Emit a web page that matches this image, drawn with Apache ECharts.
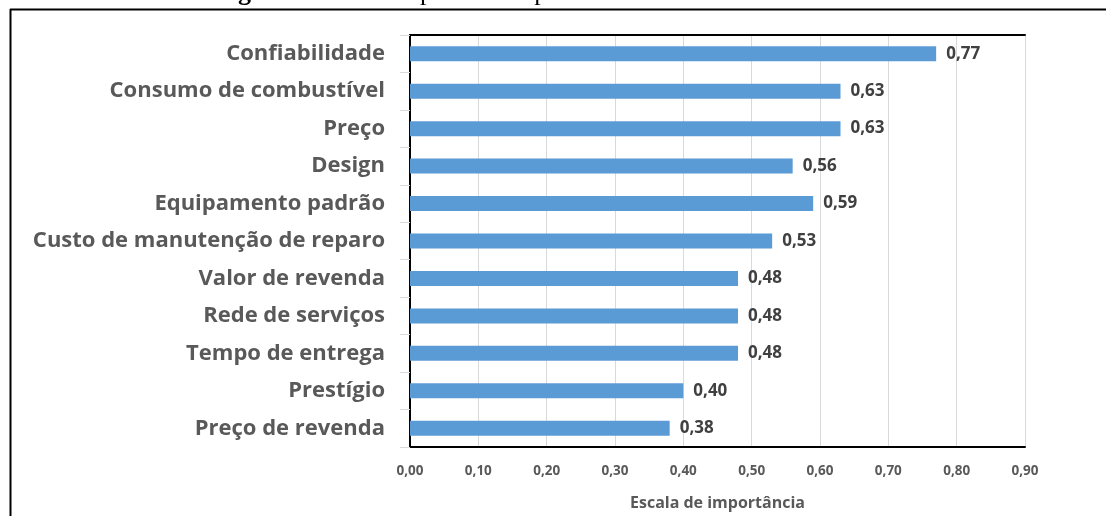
<!DOCTYPE html>
<html>
<head>
<meta charset="utf-8">
<script src="https://cdn.jsdelivr.net/npm/echarts@6/dist/echarts.min.js"></script>
<style>
  html, body { margin: 0; padding: 0; background: #fff; }
  #chart { width: 1106px; height: 516px; }
</style>
</head>
<body>
<div id="chart"></div>
<script>
// Critérios para a compra de veículos — escala de importância
const categories = [
  'Confiabilidade',
  'Consumo de combustível',
  'Preço',
  'Design',
  'Equipamento padrão',
  'Custo de manutenção de reparo',
  'Valor de revenda',
  'Rede de serviços',
  'Tempo de entrega',
  'Prestígio',
  'Preço de revenda'
];
const importance = [0.77, 0.63, 0.63, 0.56, 0.59, 0.53, 0.48, 0.48, 0.48, 0.40, 0.38];
const titleBold = 'Figura 1.';
const titleRest = ' Critérios para a compra de veículos';
const axisTitle = 'Escala de importância';

const fmt = v => Number(v).toFixed(2).replace('.', ',');
const sans = '"Open Sans", "Liberation Sans", sans-serif';

const chart = echarts.init(document.getElementById('chart'), null, { renderer: 'canvas' });

chart.setOption({
  backgroundColor: '#ffffff',
  animation: false,
  graphic: [
    {
      type: 'text',
      left: 215,
      top: -20,
      style: {
        text: '{b|' + titleBold + '}' + titleRest,
        font: '26px "Liberation Serif", serif',
        fill: '#000',
        rich: {
          b: { font: 'bold 26px "Liberation Serif", serif', fill: '#000' }
        }
      }
    },
    {
      type: 'line',
      shape: { x1: 10, y1: 9.5, x2: 1106, y2: 9.5 },
      style: { stroke: '#000', lineWidth: 2 }
    },
    {
      type: 'line',
      shape: { x1: 10.5, y1: 9, x2: 10.5, y2: 516 },
      style: { stroke: '#000', lineWidth: 2 }
    }
  ],
  grid: { left: 410, right: 81, top: 35, bottom: 66, containLabel: false },
  xAxis: [
    {
      type: 'value',
      min: 0,
      max: 0.9,
      interval: 0.1,
      position: 'bottom',
      axisLine: { show: true, lineStyle: { color: '#000', width: 2 } },
      axisTick: { show: false },
      axisLabel: {
        formatter: fmt,
        color: '#595959',
        fontFamily: sans,
        fontWeight: 'bold',
        fontSize: 13.5,
        margin: 17
      },
      splitLine: { show: true, lineStyle: { color: '#d9d9d9', width: 1 } },
      name: axisTitle,
      nameLocation: 'middle',
      nameGap: 48,
      nameTextStyle: { color: '#595959', fontFamily: sans, fontWeight: 'bold', fontSize: 16 }
    },
    {
      type: 'value',
      min: 0,
      max: 0.9,
      interval: 0.1,
      position: 'top',
      axisLine: { show: true, lineStyle: { color: '#000', width: 2 } },
      axisTick: { show: false },
      axisLabel: { show: false },
      splitLine: { show: false }
    }
  ],
  yAxis: [
    {
      type: 'category',
      data: categories,
      inverse: true,
      axisLine: { show: true, lineStyle: { color: '#bfbfbf', width: 1 } },
      axisTick: { show: true, length: 10, lineStyle: { color: '#d9d9d9' } },
      axisLabel: {
        color: '#595959',
        fontFamily: sans,
        fontWeight: 'bold',
        fontSize: 22,
        margin: 25
      }
    },
    {
      type: 'category',
      data: categories,
      inverse: true,
      position: 'right',
      axisLine: { show: true, lineStyle: { color: '#000', width: 2 } },
      axisTick: { show: false },
      axisLabel: { show: false }
    }
  ],
  series: [
    {
      type: 'bar',
      data: importance,
      barWidth: 15,
      itemStyle: { color: '#5b9bd5' },
      label: {
        show: true,
        position: 'right',
        distance: 10,
        formatter: p => fmt(p.value),
        color: '#404040',
        fontFamily: sans,
        fontWeight: 'bold',
        fontSize: 17
      }
    }
  ]
});
</script>
</body>
</html>
